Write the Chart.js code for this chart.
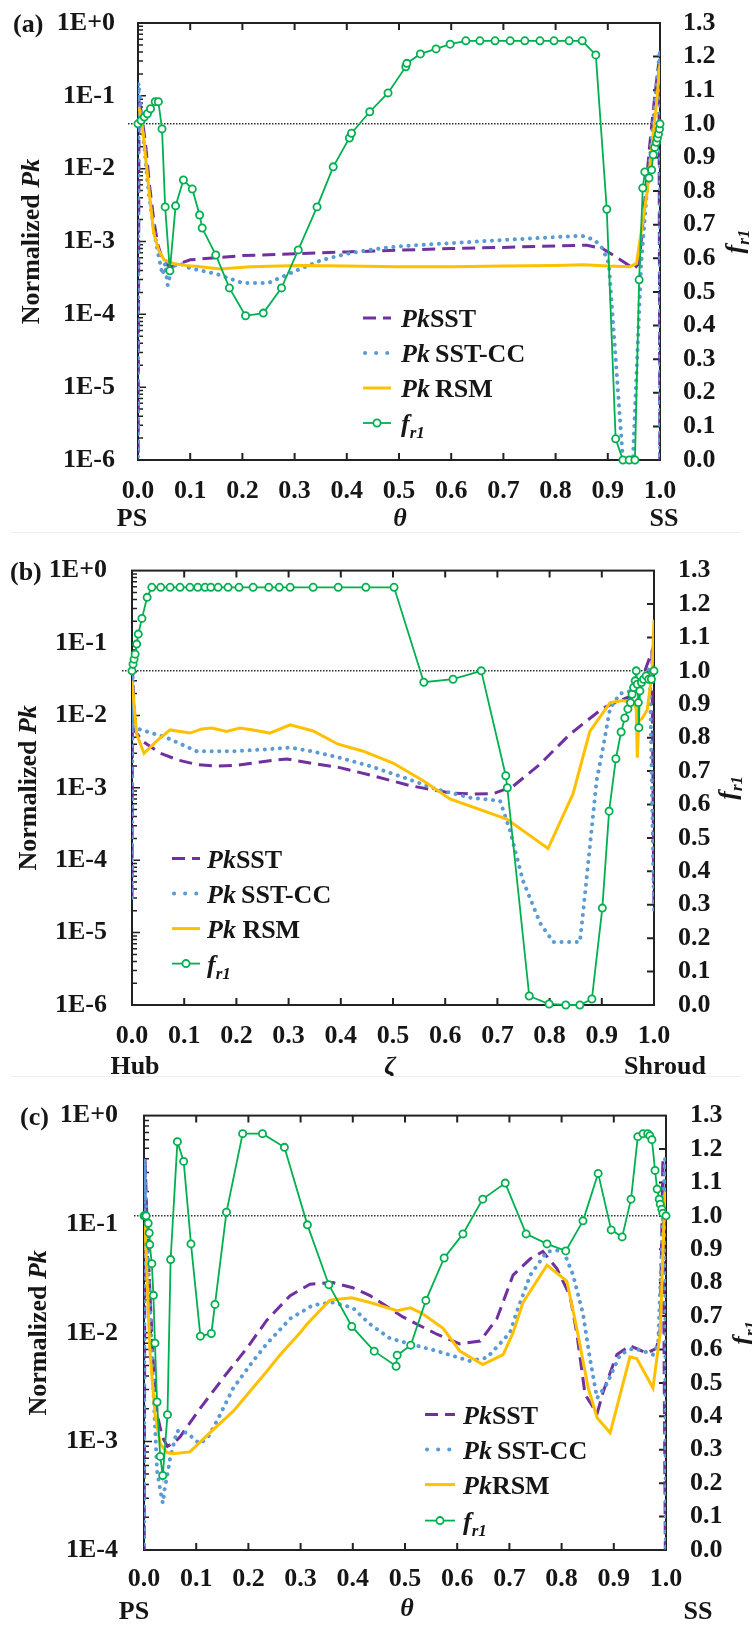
<!DOCTYPE html>
<html lang="en">
<head>
<meta charset="UTF-8">
<title>Normalized Pk and fr1</title>
<script src="https://cdn.jsdelivr.net/npm/chart.js"></script>
<style>
  body { margin: 0; background: #fff; overflow: hidden; }
  .page { position: relative; width: 752px; height: 1625px; overflow: hidden; }
  .panel { position: absolute; left: 0; }
  .rule { position: absolute; left: 12px; width: 730px; height: 1px; background: #efefef; }
</style>
</head>
<body>
<div class="page">
  <canvas id="panel-a" class="panel" width="752" height="548" style="top:-16px"></canvas>
  <div class="rule" style="top:532px"></div>
  <canvas id="panel-b" class="panel" width="752" height="546" style="top:530px"></canvas>
  <div class="rule" style="top:1076px"></div>
  <canvas id="panel-c" class="panel" width="752" height="551" style="top:1074px"></canvas>
</div>
<script>
// ---- (a) blade-to-blade, theta from PS to SS ----
const aSst = [[0,1e-7],[0.002,0.09],[0.008,0.05],[0.015,0.02],[0.022,0.006],[0.03,0.002],[0.038,9e-4],[0.046,6e-4],
  [0.055,4.8e-4],[0.065,4.5e-4],[0.08,5e-4],[0.1,5.6e-4],[0.15,6e-4],[0.2,6.4e-4],[0.3,6.8e-4],[0.4,7.2e-4],
  [0.5,7.6e-4],[0.6,8e-4],[0.7,8.3e-4],[0.8,8.7e-4],[0.86,8.9e-4],[0.89,8e-4],[0.91,6.5e-4],[0.935,5e-4],
  [0.95,4.2e-4],[0.96,5e-4],[0.97,3e-3],[0.98,2e-2],[0.99,0.1],[0.998,0.3],[1,1e-7]];
const aSstCc = [[0,1e-7],[0.001,0.15],[0.006,0.06],[0.012,0.02],[0.02,0.005],[0.03,0.0015],[0.04,6e-4],[0.047,3.5e-4],
  [0.052,5e-4],[0.057,2.5e-4],[0.065,4.5e-4],[0.08,5e-4],[0.1,4.3e-4],[0.15,3.6e-4],[0.2,2.7e-4],[0.25,2.7e-4],
  [0.3,3.9e-4],[0.35,5.5e-4],[0.4,6.8e-4],[0.45,7.8e-4],[0.5,8.6e-4],[0.6,9.5e-4],[0.7,1.05e-3],[0.8,1.15e-3],
  [0.85,1.2e-3],[0.875,1.05e-3],[0.89,8e-4],[0.902,5e-4],[0.929,1e-6],[0.948,1e-6],[0.964,5e-4],[0.975,5e-3],
  [0.985,3e-2],[0.995,0.2],[1,0.43],[1,1e-7]];
const aRsm = [[0.002,0.07],[0.01,0.03],[0.02,6e-3],[0.03,1.3e-3],[0.04,7.5e-4],[0.05,5.6e-4],[0.068,5e-4],[0.09,4.7e-4],
  [0.12,4.5e-4],[0.157,4.2e-4],[0.215,4.5e-4],[0.31,4.7e-4],[0.4,4.6e-4],[0.5,4.5e-4],[0.6,4.5e-4],[0.7,4.6e-4],
  [0.8,4.7e-4],[0.853,4.8e-4],[0.9,4.6e-4],[0.942,4.5e-4],[0.955,5e-4],[0.975,4.6e-3],[0.994,0.088],[1,0.28]];
const aFr1 = [[0,1.0],[0.006,1.01],[0.012,1.02],[0.018,1.03],[0.024,1.045],[0.033,1.066],[0.039,1.066],[0.046,0.985],
  [0.052,0.753],[0.061,0.563],[0.072,0.756],[0.087,0.833],[0.104,0.806],[0.118,0.729],[0.123,0.69],[0.149,0.61],
  [0.175,0.512],[0.206,0.429],[0.24,0.437],[0.275,0.512],[0.307,0.625],[0.343,0.753],[0.374,0.872],[0.405,0.958],
  [0.409,0.972],[0.444,1.036],[0.479,1.092],[0.513,1.17],[0.515,1.18],[0.541,1.208],[0.571,1.223],[0.598,1.237],
  [0.628,1.247],[0.655,1.247],[0.684,1.247],[0.713,1.247],[0.741,1.247],[0.77,1.247],[0.797,1.247],[0.826,1.247],
  [0.851,1.247],[0.877,1.205],[0.898,0.746],[0.915,0.063],[0.929,0],[0.941,0],[0.952,0],[0.96,0.536],[0.967,0.809],
  [0.971,0.857],[0.979,0.839],[0.984,0.863],[0.987,0.908],[0.99,0.93],[0.993,0.945],[0.995,0.958],[0.997,0.97],
  [0.999,0.985],[1,1.0]];

// ---- (b) hub to shroud, zeta ----
const bSst = [[0,3e-5],[0.001,0.04],[0.006,6.1e-3],[0.02,4.4e-3],[0.054,3e-3],[0.09,2.4e-3],[0.124,2.1e-3],[0.162,2e-3],
  [0.2,2.05e-3],[0.232,2.2e-3],[0.27,2.4e-3],[0.297,2.5e-3],[0.341,2.2e-3],[0.398,1.9e-3],[0.456,1.5e-3],[0.533,1.07e-3],
  [0.609,8.5e-4],[0.65,8.2e-4],[0.692,8.3e-4],[0.73,1.05e-3],[0.781,2.1e-3],[0.839,5.5e-3],[0.902,1.26e-2],
  [0.935,1.6e-2],[0.967,2e-2],[0.996,7.7e-2],[1,2e-5]];
const bSstCc = [[0,3e-5],[0.001,0.04],[0.003,6.7e-3],[0.012,6.5e-3],[0.067,4.9e-3],[0.124,3.2e-3],[0.195,3.2e-3],
  [0.258,3.4e-3],[0.303,3.6e-3],[0.344,3.2e-3],[0.398,2.6e-3],[0.456,2e-3],[0.519,1.4e-3],[0.584,9.5e-4],[0.648,7.3e-4],
  [0.705,6.6e-4],[0.724,2.6e-4],[0.749,5.2e-5],[0.782,1.35e-5],[0.807,7.4e-6],[0.858,7.4e-6],[0.864,1.85e-5],
  [0.877,1.5e-4],[0.89,1.25e-3],[0.902,3.5e-3],[0.916,1.26e-2],[0.935,2e-2],[0.96,2.2e-2],[0.992,4.5e-2],[1,2e-5]];
const bRsm = [[0,0.03],[0.009,5.5e-3],[0.023,3e-3],[0.047,4.4e-3],[0.073,6.3e-3],[0.111,5.7e-3],[0.134,6.5e-3],
  [0.153,6.7e-3],[0.181,6e-3],[0.207,6.7e-3],[0.232,6.3e-3],[0.264,5.7e-3],[0.303,7.4e-3],[0.347,6.1e-3],[0.395,4e-3],
  [0.443,3.2e-3],[0.5,2.2e-3],[0.558,1.25e-3],[0.609,7e-4],[0.718,3.7e-4],[0.797,1.45e-4],[0.845,8.3e-4],[0.877,6e-3],
  [0.916,1.5e-2],[0.94,1.6e-2],[0.962,1.5e-2],[0.966,1.2e-2],[0.968,2.6e-3],[0.971,8.5e-3],[0.977,9e-3],
  [0.987,1.2e-2],[0.996,3.7e-2],[1,0.21]];
const bFr1 = [[0,1.0],[0.002,1.02],[0.004,1.035],[0.006,1.05],[0.009,1.08],[0.012,1.11],[0.019,1.157],[0.029,1.22],
  [0.038,1.25],[0.055,1.25],[0.073,1.25],[0.092,1.25],[0.111,1.25],[0.126,1.25],[0.14,1.25],[0.151,1.25],[0.165,1.25],
  [0.184,1.25],[0.205,1.25],[0.232,1.25],[0.262,1.25],[0.282,1.25],[0.303,1.25],[0.347,1.25],[0.395,1.25],[0.448,1.25],
  [0.502,1.25],[0.559,0.966],[0.615,0.975],[0.669,1.0],[0.716,0.686],[0.719,0.65],[0.761,0.027],[0.799,0.003],
  [0.831,0],[0.858,0],[0.881,0.018],[0.901,0.29],[0.914,0.58],[0.927,0.737],[0.937,0.817],[0.944,0.859],[0.95,0.886],
  [0.955,0.905],[0.958,0.93],[0.961,0.95],[0.964,0.97],[0.966,1.0],[0.968,0.96],[0.97,0.905],[0.971,0.83],[0.973,0.94],
  [0.976,0.965],[0.98,0.975],[0.985,0.985],[0.99,0.975],[0.995,0.975],[1,1.0]];

// ---- (c) blade-to-blade, theta from PS to SS ----
const cSst = [[0,1e-5],[0.002,0.4],[0.006,0.1],[0.012,2e-2],[0.018,5e-3],[0.025,1.8e-3],[0.035,1.1e-3],[0.045,9e-4],
  [0.06,1e-3],[0.069,1.1e-3],[0.107,2e-3],[0.158,4.2e-3],[0.197,7.2e-3],[0.235,1.3e-2],[0.28,2.2e-2],[0.318,2.8e-2],
  [0.362,2.9e-2],[0.4,2.6e-2],[0.433,2.2e-2],[0.496,1.4e-2],[0.561,9.7e-3],[0.605,7.9e-3],[0.644,8.4e-3],
  [0.676,1.35e-2],[0.707,3.4e-2],[0.74,4.8e-2],[0.764,5.6e-2],[0.791,3.9e-2],[0.816,2.2e-2],[0.829,1e-2],
  [0.845,2.7e-3],[0.868,1.8e-3],[0.88,2.9e-3],[0.906,6.3e-3],[0.931,7.6e-3],[0.963,6.5e-3],[0.982,7.2e-3],
  [0.989,1.1e-2],[0.994,0.4],[1,1e-5]];
const cSstCc = [[0,1e-5],[0.001,0.4],[0.006,0.08],[0.012,0.015],[0.018,3e-3],[0.025,5.4e-4],[0.031,3.6e-4],[0.036,2.7e-4],
  [0.04,3.8e-4],[0.044,4.7e-4],[0.05,7e-4],[0.063,1.25e-3],[0.082,1.2e-3],[0.107,9.5e-4],[0.123,1.1e-3],[0.14,1.55e-3],
  [0.171,3.1e-3],[0.209,5.5e-3],[0.235,7.9e-3],[0.28,1.35e-2],[0.324,1.8e-2],[0.362,1.9e-2],[0.4,1.7e-2],[0.433,1.2e-2],
  [0.471,8.9e-3],[0.51,7.9e-3],[0.561,6.8e-3],[0.624,5.5e-3],[0.657,5.9e-3],[0.701,1e-2],[0.715,1.6e-2],[0.74,3.4e-2],
  [0.772,5.6e-2],[0.803,5.8e-2],[0.822,3.4e-2],[0.841,1.5e-2],[0.854,5.9e-3],[0.868,2.5e-3],[0.887,3.4e-3],
  [0.912,6.3e-3],[0.937,7.2e-3],[0.956,6.8e-3],[0.975,6.3e-3],[0.985,7.9e-3],[0.998,0.4],[1,1e-5]];
const cRsm = [[0.002,0.1],[0.011,7.2e-3],[0.021,1.8e-3],[0.031,9.5e-4],[0.044,7.9e-4],[0.056,7.7e-4],[0.088,8e-4],
  [0.126,1.2e-3],[0.171,1.9e-3],[0.235,4.4e-3],[0.26,6.2e-3],[0.299,1e-2],[0.312,1.2e-2],[0.356,2e-2],[0.398,2.1e-2],
  [0.433,1.9e-2],[0.485,1.6e-2],[0.51,1.7e-2],[0.534,1.5e-2],[0.573,1.1e-2],[0.605,6.8e-3],[0.649,5.1e-3],
  [0.688,6.3e-3],[0.707,1e-2],[0.726,1.9e-2],[0.772,4.2e-2],[0.81,3e-2],[0.829,1.1e-2],[0.851,3.1e-3],[0.868,1.65e-3],
  [0.893,1.2e-3],[0.931,6e-3],[0.944,5.8e-3],[0.975,3.1e-3],[0.989,1e-2],[0.998,0.2]];
const cFr1 = [[0,1.0],[0.002,1.0],[0.004,1.0],[0.008,0.978],[0.01,0.949],[0.011,0.914],[0.015,0.857],[0.018,0.762],
  [0.021,0.619],[0.025,0.443],[0.031,0.28],[0.036,0.223],[0.045,0.405],[0.051,0.869],[0.064,1.222],[0.076,1.163],
  [0.09,0.916],[0.108,0.64],[0.129,0.648],[0.136,0.735],[0.158,1.011],[0.189,1.246],[0.227,1.246],[0.269,1.205],
  [0.313,0.973],[0.354,0.794],[0.398,0.669],[0.441,0.595],[0.483,0.55],[0.485,0.583],[0.511,0.613],[0.54,0.747],
  [0.575,0.874],[0.611,0.946],[0.649,1.05],[0.692,1.098],[0.732,0.946],[0.772,0.916],[0.808,0.895],[0.841,0.985],
  [0.87,1.127],[0.895,0.958],[0.916,0.937],[0.933,1.05],[0.946,1.237],[0.956,1.246],[0.965,1.246],[0.969,1.24],
  [0.973,1.228],[0.979,1.136],[0.983,1.08],[0.987,1.05],[0.989,1.035],[0.992,1.02],[0.994,1.008],[1,1.0]];

const FONT = "'Liberation Serif', 'Times New Roman', serif";
const INK = '#161616';
const C_SST = '#7030A0', C_CC = '#5B9BD5', C_RSM = '#FFC000', C_FR1 = '#00B050';
const tickFont = { family: FONT, size: 26, weight: 'bold' };

const toPts = arr => arr.map(p => ({ x: p[0], y: p[1] }));

// text made of several runs (roman / italic / subscript), y is the baseline
function drawRuns(ctx, runs, x, y, align) {
  let w = 0;
  const items = runs.map(r => {
    const font = `${r.style || 'bold'} ${r.size || 26}px ${FONT}`;
    ctx.font = font;
    const m = ctx.measureText(r.text).width;
    w += m;
    return { text: r.text, font, m, dy: r.dy || 0 };
  });
  let cx = align === 'center' ? x - w / 2 : x;
  ctx.textBaseline = 'alphabetic';
  ctx.textAlign = 'left';
  for (const it of items) {
    ctx.font = it.font;
    ctx.fillText(it.text, cx, y + it.dy);
    cx += it.m;
  }
}

const R = t => ({ text: t, style: 'bold' });
const I = t => ({ text: t, style: 'italic bold' });
const SUB = t => ({ text: t, style: 'italic bold', size: 17, dy: 6 });
const fr1Runs = [I('f'), SUB('r1')];

function decorations(cfg) {
  return {
    id: 'decor',
    beforeDatasetsDraw(chart) {
      const { ctx, chartArea: a, scales } = chart;
      const x = scales.x, y = scales.y, yR = scales.yR;
      ctx.save();
      // reference line fr1 = 1
      const p1 = yR.getPixelForValue(1);
      ctx.strokeStyle = '#333';
      ctx.lineWidth = 1.5;
      ctx.setLineDash([1.5, 1.5]);
      ctx.beginPath();
      ctx.moveTo(a.left - 10, p1);
      ctx.lineTo(a.right, p1);
      ctx.stroke();
      ctx.setLineDash([]);
      // frame
      ctx.strokeStyle = '#222';
      ctx.lineWidth = 2;
      ctx.strokeRect(a.left, a.top, a.right - a.left, a.bottom - a.top);
      // inward tick marks
      ctx.beginPath();
      for (let i = 1; i < 10; i++) {
        const px = x.getPixelForValue(i / 10);
        ctx.moveTo(px, a.top); ctx.lineTo(px, a.top + 7);
        ctx.moveTo(px, a.bottom); ctx.lineTo(px, a.bottom - 7);
      }
      for (let i = 1; i < 13; i++) {
        const py = yR.getPixelForValue(i / 10);
        ctx.moveTo(a.right, py); ctx.lineTo(a.right - 7, py);
      }
      ctx.stroke();
      ctx.lineWidth = 1.5;
      ctx.beginPath();
      for (let k = Math.round(Math.log10(cfg.logMin)); k < 0; k++) {
        for (let m = 1; m < 10; m++) {
          const py = y.getPixelForValue(m * Math.pow(10, k));
          const len = m === 1 ? 8 : 5;
          ctx.moveTo(a.left, py); ctx.lineTo(a.left + len, py);
        }
      }
      ctx.stroke();
      ctx.restore();
    },
    afterDraw(chart) {
      const { ctx, chartArea: a } = chart;
      const cy = (a.top + a.bottom) / 2;
      ctx.save();
      ctx.fillStyle = INK;
      drawRuns(ctx, [R(cfg.tag)], cfg.tagX, a.top + 9, 'left');
      // axis titles
      ctx.save();
      ctx.translate(cfg.leftTitleX, cy);
      ctx.rotate(-Math.PI / 2);
      drawRuns(ctx, [R('Normalized '), I('Pk')], 0, 9, 'center');
      ctx.restore();
      ctx.save();
      ctx.translate(cfg.rightTitleX, cy);
      ctx.rotate(-Math.PI / 2);
      drawRuns(ctx, fr1Runs, 0, 9, 'center');
      ctx.restore();
      for (const t of cfg.under) drawRuns(ctx, t.runs, t.x, a.bottom + t.dy + 9, 'center');
      // legend
      const L = cfg.legend;
      const rows = [
        { draw: yy => line(ctx, L.x0, L.x1, yy, C_SST, 3, [13, 7], 'butt'), runs: [I('Pk'), R(cfg.names[0])] },
        { draw: yy => line(ctx, L.x0 + 2, L.x1, yy, C_CC, 4, [0.1, 11], 'round'), runs: [I('Pk'), R(cfg.names[1])] },
        { draw: yy => line(ctx, L.x0, L.x1, yy, C_RSM, 3, [], 'butt'), runs: [I('Pk'), R(cfg.names[2])] },
        { draw: yy => {
            line(ctx, L.x0, L.x1, yy, C_FR1, 1.8, [], 'butt');
            ctx.beginPath();
            ctx.arc((L.x0 + L.x1) / 2, yy, 3.6, 0, Math.PI * 2);
            ctx.fillStyle = '#fff'; ctx.fill();
            ctx.strokeStyle = C_FR1; ctx.lineWidth = 1.8; ctx.stroke();
          }, runs: fr1Runs }
      ];
      rows.forEach((r, i) => {
        const yy = a.top + L.dys[i];
        r.draw(yy);
        ctx.fillStyle = INK;
        drawRuns(ctx, r.runs, L.tx, yy + 9, 'left');
      });
      ctx.restore();
    }
  };
}

function line(ctx, x0, x1, y, color, w, dash, cap) {
  ctx.save();
  ctx.strokeStyle = color;
  ctx.lineWidth = w;
  ctx.lineCap = cap;
  ctx.setLineDash(dash);
  ctx.beginPath();
  ctx.moveTo(x0, y); ctx.lineTo(x1, y);
  ctx.stroke();
  ctx.restore();
}

function decadeLabel(v) {
  const e = Math.log10(v);
  const r = Math.round(e);
  if (Math.abs(e - r) > 1e-6) return '';
  return '1E' + (r >= 0 ? '+' : '-') + Math.abs(r);
}

function makePanel(id, cfg) {
  const canvas = document.getElementById(id);
  const W = canvas.width, H = canvas.height;
  const [bl, bt, br, bb] = cfg.box;
  const off = { grid: { display: false, drawTicks: false }, border: { display: false } };
  new Chart(canvas, {
    type: 'line',
    data: {
      datasets: [
        { label: 'fr1', data: toPts(cfg.fr1), yAxisID: 'yR', borderColor: C_FR1, borderWidth: 1.8,
          pointRadius: 3.6, pointBorderWidth: 1.8, pointBackgroundColor: '#fff', pointBorderColor: C_FR1, clip: false },
        { label: 'RSM', data: toPts(cfg.rsm), yAxisID: 'y', borderColor: C_RSM, borderWidth: 3, pointRadius: 0 },
        { label: 'SST-CC', data: toPts(cfg.cc), yAxisID: 'y', borderColor: C_CC, borderWidth: 4,
          borderDash: [0.1, 7.5], borderCapStyle: 'round', pointRadius: 0 },
        { label: 'SST', data: toPts(cfg.sst), yAxisID: 'y', borderColor: C_SST, borderWidth: 3,
          borderDash: [13, 7], pointRadius: 0 }
      ]
    },
    options: {
      responsive: false,
      animation: false,
      devicePixelRatio: 1,
      layout: { padding: { top: bt, left: 0, right: 0, bottom: 0 } },
      elements: { line: { tension: 0, fill: false } },
      plugins: { legend: { display: false }, tooltip: { enabled: false } },
      scales: {
        x: { type: 'linear', min: 0, max: 1, ...off,
          ticks: { stepSize: 0.1, autoSkip: false, maxRotation: 0, padding: cfg.xPad, color: INK, font: tickFont,
            callback: v => v.toFixed(1) },
          afterFit: s => { s.height = H - bb; } },
        y: { type: 'logarithmic', position: 'left', min: cfg.logMin, max: 1, ...off,
          ticks: { autoSkip: false, padding: cfg.lPad, color: INK, font: tickFont, callback: decadeLabel },
          afterFit: s => { s.width = bl; } },
        yR: { type: 'linear', position: 'right', min: 0, max: 1.3, ...off,
          ticks: { stepSize: 0.1, autoSkip: false, padding: cfg.rPad, color: INK, font: tickFont,
            callback: v => v.toFixed(1) },
          afterFit: s => { s.width = W - br; } }
      }
    },
    plugins: [decorations(cfg)]
  });
}

// plot boxes are [left, top, right, bottom] in canvas pixels; text offsets are relative to the plot
makePanel('panel-a', {
  box: [138, 39, 660, 476], logMin: 1e-6, xPad: 16, lPad: 23, rPad: 23,
  sst: aSst, cc: aSstCc, rsm: aRsm, fr1: aFr1,
  tag: '(a)', tagX: 13, leftTitleX: 30, rightTitleX: 734,
  under: [
    { runs: [R('PS')], x: 132, dy: 57 },
    { runs: [I('θ')], x: 400, dy: 57 },
    { runs: [R('SS')], x: 664, dy: 57 }
  ],
  names: ['SST', '\u2009SST-CC', '\u2009RSM'],
  legend: { x0: 363, x1: 391, tx: 401, dys: [295, 330, 365, 400] }
});

makePanel('panel-b', {
  box: [132, 39, 654, 475], logMin: 1e-6, xPad: 16, lPad: 25, rPad: 24,
  sst: bSst, cc: bSstCc, rsm: bRsm, fr1: bFr1,
  tag: '(b)', tagX: 10, leftTitleX: 27, rightTitleX: 727,
  under: [
    { runs: [R('Hub')], x: 135, dy: 60 },
    { runs: [I('ζ')], x: 390, dy: 60 },
    { runs: [R('Shroud')], x: 665, dy: 60 }
  ],
  names: ['SST', '\u2009SST-CC', ' RSM'],
  legend: { x0: 172, x1: 200, tx: 207, dys: [288, 323, 358, 393] }
});

makePanel('panel-c', {
  box: [144, 39, 666, 476], logMin: 1e-4, xPad: 14, lPad: 26, rPad: 24,
  sst: cSst, cc: cSstCc, rsm: cRsm, fr1: cFr1,
  tag: '(c)', tagX: 20, leftTitleX: 37, rightTitleX: 741,
  under: [
    { runs: [R('PS')], x: 134, dy: 60 },
    { runs: [I('θ')], x: 407, dy: 57 },
    { runs: [R('SS')], x: 698, dy: 60 }
  ],
  names: ['SST', '\u2009SST-CC', 'RSM'],
  legend: { x0: 425, x1: 455, tx: 463, dys: [299, 334, 369, 405] }
});
</script>
</body>
</html>
